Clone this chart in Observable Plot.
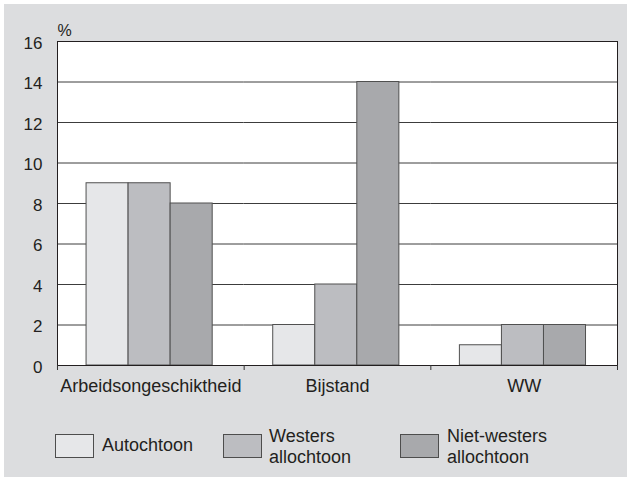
<!DOCTYPE html>
<html><head><meta charset="utf-8">
<script src="https://cdn.jsdelivr.net/npm/d3@7"></script>
<script src="https://cdn.jsdelivr.net/npm/@observablehq/plot@0.6"></script>
<style>
body{margin:0;background:#fff;font-family:"Liberation Sans",Arial,sans-serif;}
#bg{position:absolute;left:4px;top:4px;width:623px;height:473px;background:#dcdddf;}
#chart{position:absolute;left:0;top:0;}
#legend{position:absolute;left:0;top:400px;width:627px;height:77px;}
.sw{position:absolute;top:34px;width:37px;height:22px;border:1px solid #4d4d4d;}
.lt{position:absolute;font-size:18px;line-height:21px;color:#231f20;white-space:nowrap;}
</style></head>
<body>
<div id="bg"></div>
<div id="chart"></div>
<div id="legend"></div>
<script>
const categories = ["Arbeidsongeschiktheid", "Bijstand", "WW"];
const series = ["Autochtoon", "Westers allochtoon", "Niet-westers allochtoon"];
const legendLines = [["Autochtoon"], ["Westers", "allochtoon"], ["Niet-westers", "allochtoon"]];
const autochtoon = [9, 2, 1];
const westers = [9, 4, 2];
const nietWesters = [8, 14, 2];
const yTicks = [0, 2, 4, 6, 8, 10, 12, 14, 16];
const gridTicks = [2, 4, 6, 8, 10, 12, 14];
const fills = ["#e6e7e9", "#bcbdc1", "#a8a9ac"];

const values = [autochtoon, westers, nietWesters];
const table = [];
categories.forEach((c, i) => series.forEach((s, j) => table.push({category: c, series: s, value: values[j][i]})));

const W = 627, H = 400, mL = 57, mR = 10, mT = 41, mB = 35;
const bw = (W - mL - mR) / categories.length;

const plot = Plot.plot({
  width: W, height: H,
  marginLeft: mL, marginRight: mR, marginTop: mT, marginBottom: mB,
  style: {background: "transparent", fontFamily: "Liberation Sans, Arial, sans-serif", color: "#231f20", overflow: "visible"},
  fx: {domain: categories, padding: 0, round: false, label: null},
  x: {domain: series, paddingInner: 0, paddingOuter: 0.72, align: 0.48, round: false, axis: null},
  y: {domain: [0, 16], label: null},
  color: {domain: series, range: fills},
  marks: [
    Plot.frame({fill: "white", facet: "super"}),
    Plot.ruleY(gridTicks, {stroke: "#3c3c3c"}),
    Plot.barY(table, {fx: "category", x: "series", y: "value", fill: "series", stroke: "#505050"}),
    Plot.frame({stroke: "#231f20", facet: "super"}),
    Plot.axisY({ticks: yTicks, tickSize: 0, tickPadding: 15, fontSize: 17, label: null, dy: 2}),
    Plot.axisFx({anchor: "bottom", tickSize: 0, tickPadding: 14, fontSize: 18, label: null}),
    Plot.axisFx({anchor: "bottom", tickSize: 5, tickFormat: () => "", dx: -bw / 2, label: null, stroke: "#333"}),
    Plot.axisFx({anchor: "bottom", ticks: [categories[2]], tickSize: 5, tickFormat: () => "", dx: bw / 2, label: null, stroke: "#333"}),
    Plot.text(["%"], {frameAnchor: "top-left", dy: -6, textAnchor: "start", lineAnchor: "bottom", fontSize: 16, facet: "super"})
  ]
});
document.getElementById("chart").appendChild(plot);

const legend = document.getElementById("legend");
const swX = [55, 223, 400], txtX = [102, 269, 447];
series.forEach((s, i) => {
  const sw = document.createElement("div");
  sw.className = "sw";
  sw.style.left = swX[i] + "px";
  sw.style.background = fills[i];
  legend.appendChild(sw);
  const t = document.createElement("div");
  t.className = "lt";
  t.style.left = txtX[i] + "px";
  t.style.top = (legendLines[i].length === 1 ? 35 : 26) + "px";
  t.innerHTML = legendLines[i].join("<br>");
  legend.appendChild(t);
});
</script>
</body></html>
